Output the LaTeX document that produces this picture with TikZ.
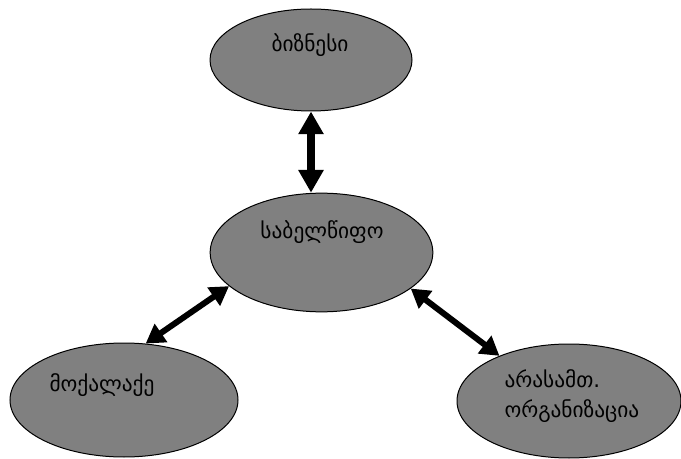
\documentclass[tikz,border=0pt]{standalone}
\usepackage{fontspec}
\newfontfamily\geofont{DejaVu Sans}
\usetikzlibrary{shapes.geometric,arrows.meta}

\tikzset{every picture/.style={line width=0.75pt}}
\tikzset{
  actor/.style={ellipse,draw=black,fill={rgb,255:red,128;green,128;blue,128},inner sep=0pt},
  actortext/.style={font=\geofont\fontsize{16}{22.5}\selectfont,inner sep=0pt},
  bigtwoway/.style={line width=6.5pt,{Triangle[length=17pt,width=18pt]}-{Triangle[length=17pt,width=18pt]}},
  twoway/.style={line width=4.5pt,{Triangle[length=14pt,width=16pt]}-{Triangle[length=14pt,width=16pt]}}
}

\begin{document}
\begin{tikzpicture}[x=0.75pt,y=0.75pt,yscale=-1,xscale=1]
\useasboundingbox (0,0) rectangle (681,459);

%Shape: Ellipse [id:business]
\draw (311,60) node (business) [actor,minimum width=151.5pt,minimum height=76.5pt] {};
%Shape: Ellipse [id:state]
\draw (321.5,252.5) node (state) [actor,minimum width=167pt,minimum height=89pt] {};
%Shape: Ellipse [id:citizen]
\draw (124,400) node (citizen) [actor,minimum width=171pt,minimum height=85.5pt] {};
%Shape: Ellipse [id:ngo]
\draw (569,401) node (ngo) [actor,minimum width=168pt,minimum height=85.5pt] {};

%Straight Lines [id:business-state]
\draw [bigtwoway] (business.south) -- (business.south |- state.north) ;
%Straight Lines [id:state-citizen]
\draw [twoway] (state.200.6) -- (citizen.69.4) ;
%Straight Lines [id:state-ngo]
\draw [twoway] (state.338) -- (ngo.147) ;

% Text Node
\draw (310,45) node (businessText) [actortext] {ბიზნესი};
% Text Node
\draw (322,232) node (stateText) [actortext] {საბელწიფო};
% Text Node
\draw (102,385) node (citizenText) [actortext] {მოქალაქე};
% Text Node
\draw (504,396) node (ngoText) [actortext,anchor=west,align=left] {არასამთ.\\ორგანიზაცია};

\end{tikzpicture}
\end{document}
